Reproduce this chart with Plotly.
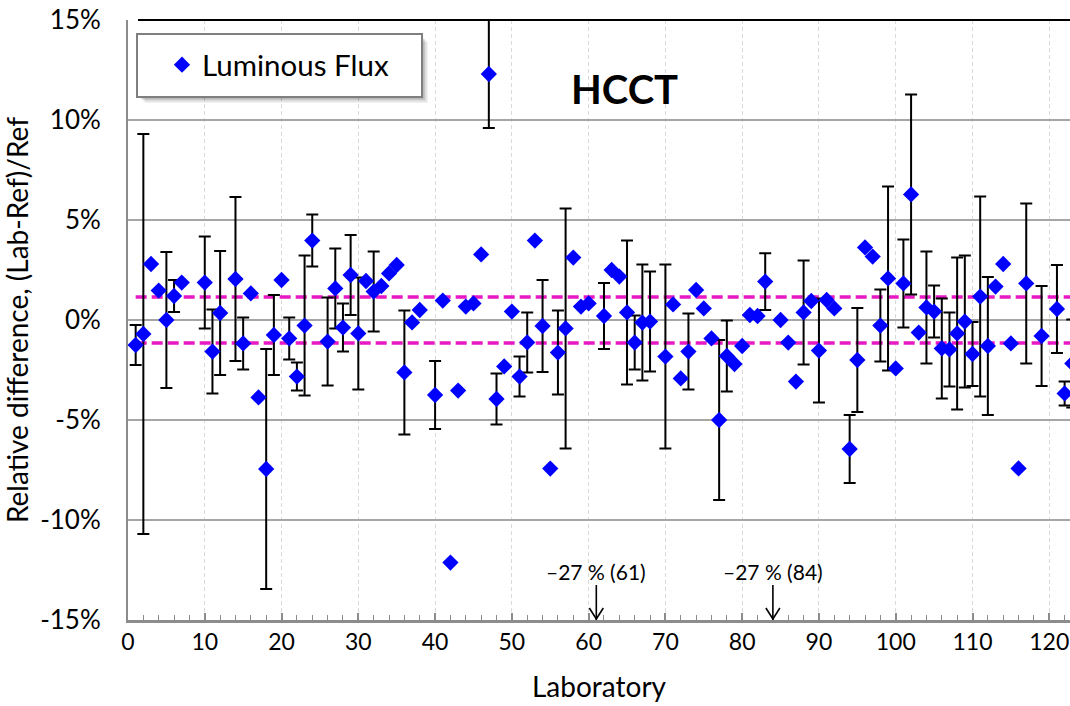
import plotly.graph_objects as go

# ---- data ----
labs = [1, 2, 3, 4, 5, 6, 7, 10, 11, 12, 14, 15, 16, 17, 18, 19, 20, 21, 22, 23,
        24, 26, 27, 28, 29, 30, 31, 32, 33, 34, 35, 36, 37, 38, 40, 41, 42, 43, 44, 45,
        46, 47, 48, 49, 50, 51, 52, 53, 54, 55, 56, 57, 58, 59, 60, 62, 63, 64, 65, 66,
        67, 68, 70, 71, 72, 73, 74, 75, 76, 77, 78, 79, 80, 81, 82, 83, 85, 86, 87, 88,
        89, 90, 91, 92, 94, 95, 96, 97, 98, 99, 100, 101, 102, 103, 104, 105, 106, 107, 108, 109,
        110, 111, 112, 113, 114, 115, 116, 117, 119, 121, 122, 123]
rel_diff = [-1.25, -0.7, 2.8, 1.47, 0.0, 1.2, 1.87, 1.87, -1.58, 0.35, 2.05, -1.17, 1.33, -3.87, -7.45, -0.75, 2.0, -0.92, -2.83, -0.28,
            3.97, -1.08, 1.58, -0.38, 2.25, -0.67, 1.95, 1.42, 1.7, 2.33, 2.75, -2.62, -0.12, 0.5, -3.75, 0.97, -12.13, -3.53, 0.67, 0.83,
            3.28, 12.3, -3.95, -2.32, 0.42, -2.83, -1.12, 3.97, -0.3, -7.43, -1.63, -0.42, 3.12, 0.67, 0.83, 0.2, 2.5, 2.17, 0.38, -1.13,
            -0.13, -0.08, -1.83, 0.78, -2.92, -1.58, 1.5, 0.58, -0.92, -5.0, -1.8, -2.2, -1.3, 0.25, 0.2, 1.92, 0.0, -1.13, -3.08, 0.38,
            0.95, -1.53, 1.0, 0.58, -6.45, -2.0, 3.63, 3.17, -0.28, 2.08, -2.42, 1.83, 6.28, -0.63, 0.63, 0.42, -1.42, -1.47, -0.67, -0.08,
            -1.7, 1.17, -1.3, 1.67, 2.8, -1.17, -7.42, 1.83, -0.8, 0.55, -3.67, -2.17]
uncert = [1.0, 10.0, None, None, 3.4, 0.8, None, 2.3, 2.1, 3.1, 4.1, 1.3, None, None, 6.0, 2.0, None, 1.05, 0.7, 3.5,
          1.3, 2.2, 2.0, 1.2, 2.0, 2.8, None, 2.0, None, None, None, 3.1, None, None, 1.7, None, None, None, None, None,
          None, 2.7, 1.28, None, None, 1.0, 1.5, None, 2.3, None, 2.1, 6.0, None, None, None, 1.65, None, None, 3.6, 1.35,
          2.9, 2.5, 4.6, None, None, 1.9, None, None, None, 4.0, 1.78, None, None, None, None, 1.42, None, None, None, 2.6,
          None, 2.6, None, None, 1.7, 2.6, None, None, 1.8, 4.6, None, 2.2, 5.0, None, 2.8, 1.3, 2.5, 1.85, 3.8, 3.3,
          1.6, 5.0, 3.45, None, None, None, None, 4.0, 2.5, 2.2, 0.6, 2.2]

ref_limit = 1.15                      # +/- dashed reference band (%)
limit_x = [1, 124]
off_scale_labs = [61, 84]             # labs plotted off scale
off_scale_text = ["\u201327 % (61)", "\u201327 % (84)"]

x_ticks = list(range(0, 130, 10))
y_ticks = [-15, -10, -5, 0, 5, 10, 15]
y_ticklabels = ["-15%", "-10%", "-5%", "0%", "5%", "10%", "15%"]

# ---- layout geometry ----
W, H = 1070, 706
L, R, T, B = 128, 0, 20, 86
PW, PH = W - L - R, H - T - B


def px_x(p):
    return (p - L) / PW


def px_y(p):
    return 1 - (p - T) / PH


FONT = "Lato"
fig = go.Figure()

for s in (1, -1):
    fig.add_trace(go.Scatter(
        x=limit_x, y=[s * ref_limit, s * ref_limit], mode="lines",
        line=dict(color="#E619C4", width=3.5, dash="11px,5px"),
        showlegend=False, hoverinfo="skip"))

fig.add_trace(go.Scatter(
    x=labs, y=rel_diff, mode="markers", name="Luminous Flux",
    marker=dict(symbol="diamond", size=12.5, color="#0000FF"),
    error_y=dict(type="data", array=uncert, visible=True, color="black",
                 thickness=2, width=6)))

shapes = []
# top border line
shapes.append(dict(type="line", xref="paper", yref="paper", x0=px_x(138), x1=1, y0=1, y1=1,
                   line=dict(color="black", width=2), layer="above"))
# legend box with soft shadow
bx0, by0, bx1, by1 = 137, 34, 422, 97
for off, a in ((6, 0.06), (4.5, 0.08), (3, 0.1), (1.5, 0.12)):
    shapes.append(dict(type="rect", xref="paper", yref="paper",
                       x0=px_x(bx0 + off + 2), x1=px_x(bx1 + off), y0=px_y(by0 + off + 2), y1=px_y(by1 + off),
                       fillcolor="rgba(0,0,0,%s)" % a, line=dict(width=0), layer="above"))
shapes.append(dict(type="rect", xref="paper", yref="paper",
                   x0=px_x(bx0), x1=px_x(bx1), y0=px_y(by0), y1=px_y(by1),
                   fillcolor="white", line=dict(color="#7F7F7F", width=2), layer="above"))

annotations = [dict(text="<b>HCCT</b>", xref="paper", yref="paper", x=px_x(624), y=px_y(63),
                    showarrow=False, font=dict(family=FONT, size=40, color="black"))]
for lab, txt in zip(off_scale_labs, off_scale_text):
    annotations.append(dict(x=lab, y=-15, xref="x", yref="y", text=txt, showarrow=True,
                            ax=0, ay=-49, arrowhead=0, arrowwidth=1.6,
                            arrowcolor="black", font=dict(family=FONT, size=21, color="black")))
    # open chevron arrow head
    shapes.append(dict(type="path", xref="x", yref="y", xsizemode="pixel", ysizemode="pixel",
                       xanchor=lab, yanchor=-15, path="M-7,12 L0,1 L7,12",
                       line=dict(color="black", width=1.6), layer="above"))

fig.update_layout(
    width=W, height=H, margin=dict(l=L, r=R, t=T, b=B, pad=0),
    paper_bgcolor="white", plot_bgcolor="white",
    font=dict(family=FONT, color="black"),
    showlegend=True,
    legend=dict(x=px_x(162), y=px_y(65), xanchor="left", yanchor="middle",
                bgcolor="rgba(0,0,0,0)", borderwidth=0,
                font=dict(family=FONT, size=29.5, color="black")),
    shapes=shapes, annotations=annotations,
    xaxis=dict(range=[0, 122.7], tickvals=x_ticks, showgrid=True, gridcolor="#D9D9D9",
               griddash="4px,3px", gridwidth=1, zeroline=False,
               showline=True, linecolor="#8C8C8C", linewidth=2.5,
               ticks="inside", ticklen=7, tickwidth=1.5, tickcolor="#8C8C8C",
               minor=dict(dtick=2, tick0=0, ticks="inside", ticklen=5, tickwidth=1, tickcolor="#8C8C8C", showgrid=False),
               ticklabeloverflow="allow",
               tickfont=dict(family=FONT, size=23, color="black"),
               title=dict(text="Laboratory", font=dict(family=FONT, size=28, color="black"), standoff=24)),
    yaxis=dict(range=[-15, 15], tickvals=y_ticks, ticktext=y_ticklabels, showgrid=True,
               gridcolor="#A6A6A6", gridwidth=2, zeroline=False,
               showline=True, linecolor="#8C8C8C", linewidth=2, ticks="",
               ticklabelstandoff=20,
               tickfont=dict(family=FONT, size=26, color="black"),
               title=dict(text="Relative difference, (Lab-Ref)/Ref",
                          font=dict(family=FONT, size=28, color="black"), standoff=4)),
)

fig.write_html("out.html")
